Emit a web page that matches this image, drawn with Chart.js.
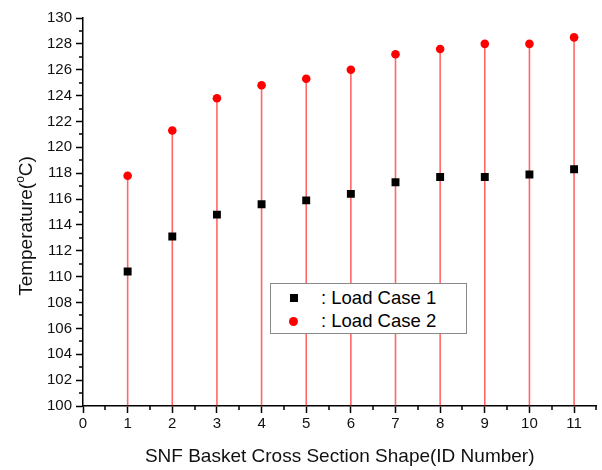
<!DOCTYPE html>
<html>
<head>
<meta charset="utf-8">
<script src="https://cdn.jsdelivr.net/npm/chart.js@4.4.0/dist/chart.umd.min.js"></script>
<style>
  body { margin: 0; background: #fff; }
  #wrap { position: relative; width: 602px; height: 470px; }
  #legend {
    position: absolute; left: 270px; top: 283px; width: 195px; height: 49px;
    border: 1px solid #8a8a8a; background: #fff;
    font-family: "Liberation Sans", Arial, sans-serif; font-size: 18.5px; color: #000;
  }
  #legend .row { position: absolute; left: 0; width: 100%; height: 22px; line-height: 22px; }
  #legend .mark { position: absolute; top: 50%; }
  #legend .sq { width: 8px; height: 8px; background: #000; left: 19px; margin-top: -4px; }
  #legend .dot { width: 9px; height: 9px; background: #ff0000; border-radius: 50%; left: 18px; margin-top: -4.5px; }
  #legend .txt { position: absolute; left: 50px; white-space: nowrap; }
</style>
</head>
<body>
<div id="wrap">
  <canvas id="tempChart" width="602" height="470"></canvas>
  <div id="legend">
    <div class="row" style="top:3px"><span class="mark sq"></span><span class="txt">: Load Case 1</span></div>
    <div class="row" style="top:26px"><span class="mark dot"></span><span class="txt">: Load Case 2</span></div>
  </div>
</div>
<script>
  // basket cross section IDs and peak temperatures
  var shapeIds = [1, 2, 3, 4, 5, 6, 7, 8, 9, 10, 11];
  var loadCase1 = [110.4, 113.1, 114.8, 115.6, 115.9, 116.4, 117.3, 117.7, 117.7, 117.9, 118.3];
  var loadCase2 = [117.8, 121.3, 123.8, 124.8, 125.3, 126.0, 127.2, 127.6, 128.0, 128.0, 128.5];

  var yMin = 100, yMax = 130, yStep = 2;
  var xMin = 0, xMax = 11.5, xStep = 1;

  function toPoints(ys) {
    return shapeIds.map(function(x, i) { return { x: x, y: ys[i] }; });
  }

  var fontFamily = '"Liberation Sans", Arial, sans-serif';

  // red drop lines from the axis floor up to each Load Case 2 point
  var dropLines = {
    id: 'dropLines',
    beforeDatasetsDraw: function(chart) {
      var ctx = chart.ctx, xs = chart.scales.x, ys = chart.scales.y;
      ctx.save();
      ctx.strokeStyle = 'rgba(255, 0, 0, 0.6)';
      ctx.lineWidth = 1.6;
      loadCase2.forEach(function(v, i) {
        var px = xs.getPixelForValue(shapeIds[i]);
        ctx.beginPath();
        ctx.moveTo(px, ys.getPixelForValue(yMin));
        ctx.lineTo(px, ys.getPixelForValue(v));
        ctx.stroke();
      });
      ctx.restore();
    }
  };

  // short minor ticks halfway between the labelled ones
  var minorTicks = {
    id: 'minorTicks',
    afterDraw: function(chart) {
      var ctx = chart.ctx, xs = chart.scales.x, ys = chart.scales.y;
      var area = chart.chartArea;
      ctx.save();
      ctx.strokeStyle = '#000';
      ctx.lineWidth = 1.5;
      ctx.beginPath();
      for (var x = xMin + xStep / 2; x <= xMax + 0.001; x += xStep) {
        var px = Math.round(xs.getPixelForValue(x));
        ctx.moveTo(px, area.bottom);
        ctx.lineTo(px, area.bottom + 4);
      }
      for (var y = yMin + yStep / 2; y < yMax; y += yStep) {
        var py = Math.round(ys.getPixelForValue(y));
        ctx.moveTo(area.left, py);
        ctx.lineTo(area.left - 4, py);
      }
      ctx.stroke();
      ctx.restore();
    }
  };

  // vertical axis title with a raised "o" for degrees
  var yTitle = {
    id: 'yTitle',
    afterDraw: function(chart) {
      var ctx = chart.ctx, area = chart.chartArea;
      var big = '19px ' + fontFamily, small = '12px ' + fontFamily;
      var parts = [['Temperature(', big, 0], ['o', small, -6], ['C)', big, 0]];
      ctx.save();
      ctx.translate(27, (area.top + area.bottom) / 2 + 14);
      ctx.rotate(-Math.PI / 2);
      ctx.fillStyle = '#111';
      ctx.textBaseline = 'middle';
      ctx.textAlign = 'left';
      var total = 0;
      parts.forEach(function(p) { ctx.font = p[1]; total += ctx.measureText(p[0]).width; });
      var cx = -total / 2;
      parts.forEach(function(p) {
        ctx.font = p[1];
        ctx.fillText(p[0], cx, p[2]);
        cx += ctx.measureText(p[0]).width;
      });
      ctx.restore();
    }
  };

  new Chart(document.getElementById('tempChart'), {
    type: 'scatter',
    data: {
      datasets: [{
        label: ': Load Case 1',
        data: toPoints(loadCase1),
        pointStyle: 'rect',
        pointRadius: 5.6,
        pointHoverRadius: 5.6,
        backgroundColor: '#000',
        borderColor: '#000',
        borderWidth: 0
      }, {
        label: ': Load Case 2',
        data: toPoints(loadCase2),
        pointStyle: 'circle',
        pointRadius: 4.3,
        pointHoverRadius: 4.3,
        backgroundColor: '#ff0000',
        borderColor: '#ff0000',
        borderWidth: 0
      }]
    },
    options: {
      responsive: false,
      animation: false,
      layout: { padding: { top: 18, right: 5, left: 0, bottom: 0 } },
      plugins: {
        legend: { display: false },
        tooltip: { enabled: false }
      },
      scales: {
        x: {
          type: 'linear',
          min: xMin,
          max: xMax,
          afterFit: function(scale) { scale.height = 64; },
          grid: { drawOnChartArea: false, drawTicks: true, tickLength: 7, tickColor: '#000', tickWidth: 1.5 },
          border: { display: true, color: '#000', width: 1.5 },
          ticks: { stepSize: xStep, includeBounds: false, color: '#111', padding: 2, maxRotation: 0, font: { family: fontFamily, size: 15 } },
          title: {
            display: true,
            text: 'SNF Basket Cross Section Shape(ID Number)',
            color: '#111',
            font: { family: fontFamily, size: 19 },
            padding: { top: 0, bottom: 2 }
          }
        },
        y: {
          min: yMin,
          max: yMax,
          afterFit: function(scale) { scale.width = 83; },
          grid: { drawOnChartArea: false, drawTicks: true, tickLength: 7, tickColor: '#000', tickWidth: 1.5 },
          border: { display: true, color: '#000', width: 1.5 },
          ticks: { stepSize: yStep, color: '#111', padding: 4, font: { family: fontFamily, size: 15 } },
          title: { display: false }
        }
      }
    },
    plugins: [dropLines, minorTicks, yTitle]
  });
</script>
</body>
</html>
